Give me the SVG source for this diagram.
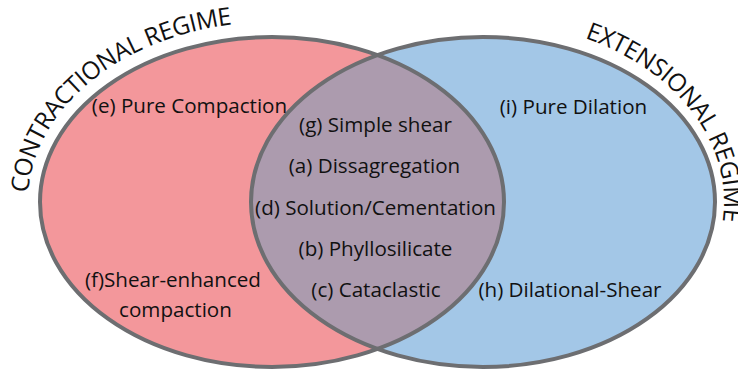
<svg xmlns="http://www.w3.org/2000/svg" width="738" height="373" viewBox="0 0 738 373">
  <style>
    .lbl { font-family: "Open Sans", "Noto Sans", "DejaVu Sans", sans-serif; font-size: 20.6px; fill: #111; text-anchor: middle; }
    .arc { font-family: "Open Sans", "Noto Sans", "DejaVu Sans", sans-serif; font-size: 24.5px; fill: #111; }
    .edge { fill: none; stroke: #6d6e71; stroke-width: 4; }
  </style>
  <defs>
    <clipPath id="clipRight">
      <ellipse cx="483" cy="202" rx="232" ry="165"/>
    </clipPath>
    <path id="arcLeft" d="M 28.3 193 A 244 180 0 0 1 293.3 22.7"/>
    <path id="arcRight" d="M 584.9 38 A 241 181 0 0 1 667.6 318.4"/>
  </defs>

  <g id="contractional">
    <ellipse cx="272" cy="202" rx="232" ry="165" fill="#f3979b"/>
  </g>
  <g id="extensional">
    <ellipse cx="483" cy="202" rx="232" ry="165" fill="#a3c7e7"/>
  </g>
  <g id="overlap">
    <ellipse cx="272" cy="202" rx="232" ry="165" fill="#ac9bae" clip-path="url(#clipRight)"/>
  </g>
  <g id="outlines">
    <ellipse class="edge" cx="272" cy="202" rx="232" ry="165"/>
    <ellipse class="edge" cx="483" cy="202" rx="232" ry="165"/>
  </g>
  <g id="connectors"/>

  <g id="regime-labels">
    <text class="arc"><textPath href="#arcLeft" textLength="286" lengthAdjust="spacing">CONTRACTIONAL REGIME</textPath></text>
    <text class="arc"><textPath href="#arcRight" textLength="249" lengthAdjust="spacing">EXTENSIONAL REGIME</textPath></text>
  </g>

  <g id="contractional-labels">
    <text class="lbl" x="189.5" y="113">(e) Pure Compaction</text>
    <text class="lbl" x="173" y="287">(f)Shear-enhanced</text>
    <text class="lbl" x="175.5" y="317">compaction</text>
  </g>
  <g id="overlap-labels">
    <text class="lbl" x="375.5" y="132">(g) Simple shear</text>
    <text class="lbl" x="374.5" y="173">(a) Dissagregation</text>
    <text class="lbl" x="375.5" y="215">(d) Solution/Cementation</text>
    <text class="lbl" x="375.5" y="256">(b) Phyllosilicate</text>
    <text class="lbl" x="376" y="297">(c) Cataclastic</text>
  </g>
  <g id="extensional-labels">
    <text class="lbl" x="573.5" y="114">(i) Pure Dilation</text>
    <text class="lbl" x="570" y="297">(h) Dilational-Shear</text>
  </g>
</svg>
